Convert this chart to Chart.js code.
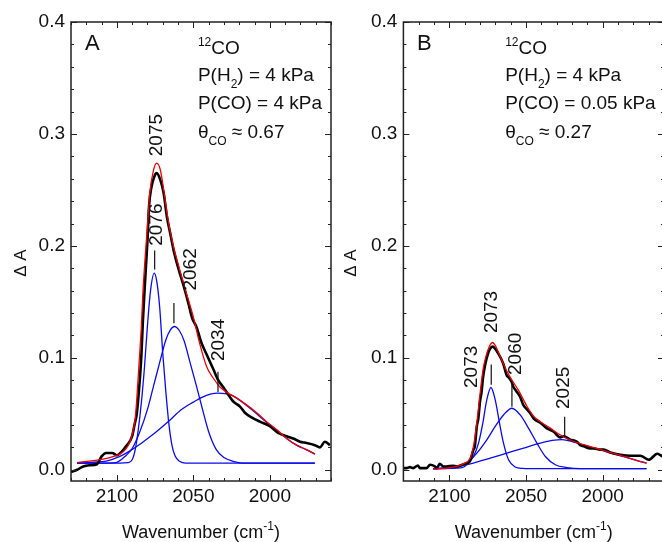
<!DOCTYPE html>
<html>
<head>
<meta charset="utf-8">
<script src="https://cdn.jsdelivr.net/npm/chart.js@4.4.0/dist/chart.umd.min.js"></script>
<style>
  html, body { margin: 0; padding: 0; background: #fff; overflow: hidden; }
  body { width: 662px; height: 542px; position: relative; }
  .panel { position: absolute; top: 0; width: 340px; height: 542px; }
  #panelA { left: 0; }
  #panelB { left: 331px; }
</style>
</head>
<body>
<div class="panel" id="panelA"><canvas id="chartA" width="340" height="542"></canvas></div>
<div class="panel" id="panelB"><canvas id="chartB" width="340" height="542"></canvas></div>
<script>
// ---- panel A : P(CO) = 4 kPa ----
const wnA_exp = [2130, 2126, 2122, 2118, 2113, 2110, 2107, 2103, 2100, 2097, 2094, 2090, 2088.5, 2087, 2085.5, 2084, 2083, 2081.5, 2080, 2079, 2077.5, 2075.5, 2074, 2071.6, 2069.4, 2067.3, 2065.1, 2062.9, 2059.6, 2056.3, 2053.1, 2050.9, 2047.8, 2044.6, 2041.3, 2037, 2033.7, 2030.5, 2026.1, 2023.9, 2019.5, 2016.3, 2010.8, 2006.5, 2000, 1994.5, 1989, 1984.7, 1980.3, 1975.9, 1970.5, 1967.3, 1964, 1960.7];
const dA_exp  = [-0.002, 0.000, 0.003, 0.004, 0.005, 0.012, 0.015, 0.015, 0.013, 0.016, 0.021, 0.030, 0.040, 0.050, 0.072, 0.102, 0.133, 0.170, 0.205, 0.235, 0.252, 0.262, 0.265, 0.259, 0.247, 0.226, 0.211, 0.196, 0.179, 0.164, 0.148, 0.136, 0.127, 0.113, 0.103, 0.090, 0.080, 0.074, 0.065, 0.061, 0.0565, 0.051, 0.046, 0.043, 0.039, 0.033, 0.030, 0.028, 0.025, 0.024, 0.022, 0.020, 0.025, 0.022];

const wnA_fit = [2126, 2111, 2102, 2096, 2092.5, 2090.3, 2088, 2087, 2085.5, 2084, 2083, 2081.5, 2080, 2078.5, 2076, 2074, 2071.6, 2069.4, 2066.1, 2062.9, 2059.6, 2055.3, 2052, 2050.1, 2045.7, 2041.3, 2037, 2032.6, 2027.2, 2021.7, 2015.2, 2008.6, 2002.1, 1995.6, 1989, 1982.5, 1975.9, 1970.5];
const dA_fit  = [0.0065, 0.009, 0.012, 0.016, 0.022, 0.030, 0.046, 0.063, 0.095, 0.128, 0.158, 0.190, 0.218, 0.247, 0.268, 0.274, 0.268, 0.250, 0.220, 0.199, 0.182, 0.161, 0.146, 0.137, 0.112, 0.092, 0.082, 0.074, 0.0685, 0.064, 0.058, 0.051, 0.043, 0.036, 0.028, 0.022, 0.018, 0.014];

const wnA_p1 = [2126, 2098, 2093, 2090, 2088, 2086, 2084, 2082, 2080, 2078, 2075.6, 2074, 2072, 2070, 2068, 2066, 2064, 2062, 2059, 2055, 1970.5];
const dA_p1  = [0.006, 0.006, 0.0064, 0.009, 0.018, 0.036, 0.060, 0.091, 0.129, 0.160, 0.1756, 0.169, 0.145, 0.104, 0.070, 0.041, 0.022, 0.0125, 0.0076, 0.006, 0.006];

const wnA_p2 = [2126, 2105, 2100, 2095, 2090, 2085, 2080, 2076, 2072, 2068, 2065, 2062.4, 2059, 2056, 2052, 2048, 2044, 2040, 2035, 2030, 2024, 2018, 1970.5];
const dA_p2  = [0.006, 0.006, 0.0067, 0.0116, 0.019, 0.034, 0.054, 0.075, 0.096, 0.116, 0.125, 0.128, 0.124, 0.115, 0.095, 0.075, 0.054, 0.034, 0.018, 0.011, 0.0076, 0.006, 0.006];

const wnA_p3 = [2126, 2115, 2107, 2098, 2092, 2084, 2075, 2066, 2058, 2050, 2044, 2039, 2034, 2029, 2024, 2015.2, 2008.6, 2002.1, 1995.6, 1989, 1982.5, 1975.9, 1970.5];
const dA_p3  = [0.006, 0.0068, 0.0078, 0.012, 0.0165, 0.0238, 0.033, 0.0435, 0.0536, 0.0605, 0.065, 0.0675, 0.0685, 0.068, 0.066, 0.0575, 0.050, 0.0425, 0.0355, 0.028, 0.022, 0.0178, 0.0142];

// ---- panel B : P(CO) = 0.05 kPa ----
const wnB_exp = [2130, 2128, 2125.7, 2123.7, 2120.5, 2119.2, 2115, 2112.6, 2109.5, 2108.2, 2106.3, 2103.9, 2102, 2097.6, 2095.2, 2089.9, 2086.7, 2084.3, 2083.4, 2082.1, 2081.2, 2079.9, 2079.1, 2078, 2076.5, 2075, 2073.5, 2071.9, 2068.2, 2064.9, 2062.5, 2061.6, 2059.5, 2058.2, 2056.2, 2053.8, 2051.8, 2049.4, 2047.5, 2045.1, 2040.7, 2036.3, 2032, 2027.6, 2025.5, 2021.1, 2016.7, 2014.6, 2012.4, 2008, 2005.9, 2001.5, 1999.3, 1995, 1988.4, 1981.9, 1975.4, 1969.9, 1964.4, 1961];
const dB_exp  = [0.0015, 0.0015, 0.0024, 0.0015, 0.0038, 0.0015, 0.0015, 0.0045, 0.003, 0.0015, 0.0054, 0.003, 0.003, 0.0036, 0.003, 0.0054, 0.0074, 0.018, 0.021, 0.039, 0.045, 0.0625, 0.0685, 0.083, 0.095, 0.103, 0.108, 0.110, 0.104, 0.095, 0.084, 0.083, 0.079, 0.074, 0.070, 0.065, 0.058, 0.054, 0.051, 0.046, 0.042, 0.037, 0.034, 0.029, 0.030, 0.027, 0.025, 0.022, 0.021, 0.019, 0.019, 0.018, 0.018, 0.0155, 0.0134, 0.0125, 0.0125, 0.009, 0.0143, 0.012];

const wnB_fit = [2110.5, 2101.7, 2095.2, 2090.8, 2086.5, 2084.3, 2082.1, 2080, 2078, 2075.8, 2074, 2071.9, 2070, 2068.2, 2064.9, 2060.5, 2055.1, 2049.5, 2045.1, 2040.7, 2034.2, 2027.8, 2019, 2008, 1997.1, 1986.3, 1977.5, 1971.4];
const dB_fit  = [0.0006, 0.0015, 0.003, 0.0054, 0.0104, 0.021, 0.042, 0.068, 0.090, 0.103, 0.110, 0.1137, 0.111, 0.1056, 0.095, 0.083, 0.0714, 0.057, 0.048, 0.043, 0.0372, 0.0313, 0.0253, 0.0208, 0.0163, 0.0119, 0.0083, 0.006];

const wnB_p1 = [2110.5, 2095, 2090, 2088.6, 2084.3, 2081, 2078.2, 2075.6, 2072.9, 2070.1, 2067.3, 2064.7, 2061.4, 2057.1, 2052, 2049.4, 1971.4];
const dB_p1  = [0.001, 0.0015, 0.003, 0.005, 0.0119, 0.0238, 0.0417, 0.0625, 0.0735, 0.0625, 0.0417, 0.0238, 0.0089, 0.0025, 0.0012, 0.001, 0.001];

const wnB_p2 = [2110.5, 2096.3, 2088.6, 2082.1, 2075.6, 2070.1, 2064.7, 2059.2, 2053.8, 2048.4, 2042.9, 2037.4, 2030.9, 2023.3, 2014.6, 1971.4];
const dB_p2  = [0.001, 0.002, 0.006, 0.0149, 0.0268, 0.0387, 0.049, 0.055, 0.049, 0.0372, 0.0238, 0.0119, 0.0045, 0.002, 0.001, 0.001];

const wnB_p3 = [2110.5, 2106.1, 2095.2, 2084.3, 2073.4, 2062.5, 2051.6, 2040.7, 2033, 2026.5, 2019, 2008, 1997.1, 1986.3, 1977.5, 1971.4];
const dB_p3  = [0.001, 0.0015, 0.003, 0.006, 0.0104, 0.0149, 0.0194, 0.0238, 0.0262, 0.027, 0.0248, 0.0203, 0.0158, 0.0117, 0.0082, 0.006];

// ---- axes ----
const xMajor = [2100, 2050, 2000];
const yMajor = [0.0, 0.1, 0.2, 0.3, 0.4];

// ---- annotations ----
const peakTextA = ['2075', '2076', '2062', '2034'];
const peakTextPosA = [[2073.8, 0.299], [2074.1, 0.219], [2051.6, 0.179], [2033.6, 0.116]];
const peakMarkA = [[2075.3, 0.179, 0.196], [2062.7, 0.131, 0.149], [2033.9, 0.0696, 0.0875]];

const peakTextB = ['2073', '2073', '2060', '2025'];
const peakTextPosB = [[2072.4, 0.141], [2085.5, 0.092], [2056.4, 0.1036], [2025.4, 0.0732]];
const peakMarkB = [[2072.7, 0.076, 0.094], [2059.2, 0.0563, 0.0777], [2024.8, 0.0295, 0.0473]];

const condA = [
  [{ t: '12', sup: 1 }, { t: 'CO' }],
  [{ t: 'P(H' }, { t: '2', sub: 1 }, { t: ') = 4 kPa' }],
  [{ t: 'P(CO) = 4 kPa' }],
  [{ t: 'θ' }, { t: 'CO', sub: 1 }, { t: ' ≈ 0.67' }]
];
const condB = [
  [{ t: '12', sup: 1 }, { t: 'CO' }],
  [{ t: 'P(H' }, { t: '2', sub: 1 }, { t: ') = 4 kPa' }],
  [{ t: 'P(CO) = 0.05 kPa' }],
  [{ t: 'θ' }, { t: 'CO', sub: 1 }, { t: ' ≈ 0.27' }]
];
const condLineY = [0.3714, 0.3473, 0.3223, 0.2964];

const FONT = '"Liberation Sans", Arial, sans-serif';
Chart.defaults.font.family = FONT;
Chart.defaults.color = '#111';

function pts(xs, ys) {
  return xs.map((x, i) => ({ x: x, y: ys[i] }));
}

function richText(ctx, x, y, parts) {
  let cx = x;
  parts.forEach(p => {
    const small = p.sub || p.sup;
    ctx.font = (small ? 12 : 19) + 'px ' + FONT;
    const dy = p.sub ? 7 : (p.sup ? -8 : 0);
    ctx.fillText(p.t, cx, y + dy);
    cx += ctx.measureText(p.t).width;
  });
}

const framePlugin = {
  id: 'frame',
  afterDatasetsDraw(chart) {
    const { ctx, chartArea: a, scales: { x, y } } = chart;
    ctx.save();
    ctx.strokeStyle = '#222';
    ctx.lineWidth = 1;
    ctx.beginPath();
    for (let v = 1960; v <= 2130; v += 10) {
      const px = Math.round(x.getPixelForValue(v)) + 0.5;
      const len = v % 50 === 0 ? 6 : 3;
      ctx.moveTo(px, a.bottom); ctx.lineTo(px, a.bottom - len);
      ctx.moveTo(px, a.top); ctx.lineTo(px, a.top + len);
    }
    for (let i = 0; i <= 20; i++) {
      const py = Math.round(y.getPixelForValue(i * 0.02)) + 0.5;
      const len = i % 5 === 0 ? 6 : 3;
      ctx.moveTo(a.left, py); ctx.lineTo(a.left + len, py);
      ctx.moveTo(a.right, py); ctx.lineTo(a.right - len, py);
    }
    ctx.stroke();
    ctx.lineWidth = 1.5;
    ctx.strokeRect(a.left, a.top, a.right - a.left, a.bottom - a.top);
    ctx.restore();
  },
  afterDraw(chart, args, opts) {
    const { ctx, chartArea: a, scales: { x, y } } = chart;
    ctx.save();
    ctx.fillStyle = '#111';
    ctx.strokeStyle = '#111';

    // axis titles
    ctx.textBaseline = 'alphabetic';
    ctx.textAlign = 'left';
    ctx.font = '18px ' + FONT;
    const main = 'Wavenumber (cm', tail = ')';
    const w1 = ctx.measureText(main).width;
    ctx.font = '12px ' + FONT;
    const w2 = ctx.measureText('-1').width;
    ctx.font = '18px ' + FONT;
    const w3 = ctx.measureText(tail).width;
    let tx = (a.left + a.right) / 2 - (w1 + w2 + w3) / 2;
    ctx.fillText(main, tx, 538);
    ctx.font = '12px ' + FONT;
    ctx.fillText('-1', tx + w1, 530);
    ctx.font = '18px ' + FONT;
    ctx.fillText(tail, tx + w1 + w2, 538);

    ctx.save();
    ctx.translate(opts.yTitleX, 263);
    ctx.rotate(-Math.PI / 2);
    ctx.textAlign = 'center';
    ctx.textBaseline = 'middle';
    ctx.font = '17px ' + FONT;
    ctx.fillText('Δ A', 0, 0);
    ctx.restore();

    // panel letter
    ctx.font = '22px ' + FONT;
    ctx.fillText(opts.letter, x.getPixelForValue(opts.letterX), y.getPixelForValue(0.375));

    // conditions
    const cx = x.getPixelForValue(opts.condX);
    opts.cond.forEach((parts, i) => richText(ctx, cx, y.getPixelForValue(condLineY[i]), parts));

    // peak labels
    ctx.font = '19px ' + FONT;
    ctx.textAlign = 'center';
    ctx.textBaseline = 'middle';
    opts.peakText.forEach((t, i) => {
      const p = opts.peakPos[i];
      ctx.save();
      ctx.translate(x.getPixelForValue(p[0]), y.getPixelForValue(p[1]));
      ctx.rotate(-Math.PI / 2);
      ctx.fillText(t, 0, 0);
      ctx.restore();
    });
    ctx.lineWidth = 1.2;
    ctx.beginPath();
    opts.peakMark.forEach(m => {
      const px = x.getPixelForValue(m[0]);
      ctx.moveTo(px, y.getPixelForValue(m[1]));
      ctx.lineTo(px, y.getPixelForValue(m[2]));
    });
    ctx.stroke();
    ctx.restore();
  }
};

function line(data, color, width, order) {
  return {
    data: data,
    showLine: true,
    borderColor: color,
    borderWidth: width,
    pointRadius: 0,
    cubicInterpolationMode: 'monotone',
    fill: false,
    order: order
  };
}

function makePanel(id, series, yWidth, rightPad, frameOpts) {
  const ctx = document.getElementById(id).getContext('2d');
  new Chart(ctx, {
    type: 'scatter',
    data: {
      datasets: [
        line(series.fit, '#f00000', 1.3, 0),
        line(series.exp, '#000000', 2.6, 1),
        line(series.p1, '#0a0af0', 1.3, 2),
        line(series.p2, '#0a0af0', 1.3, 2),
        line(series.p3, '#0a0af0', 1.3, 2)
      ]
    },
    options: {
      responsive: false,
      animation: false,
      devicePixelRatio: 1,
      layout: { padding: { top: 22, right: rightPad, left: 0, bottom: 0 } },
      plugins: {
        legend: { display: false },
        tooltip: { enabled: false },
        frame: frameOpts
      },
      scales: {
        x: {
          type: 'linear',
          reverse: true,
          min: 1960,
          max: 2130,
          afterBuildTicks: s => { s.ticks = xMajor.map(v => ({ value: v })); },
          afterFit: s => { s.height = 61; },
          ticks: { font: { size: 19 }, padding: 4, color: '#111', maxRotation: 0, callback: v => String(v) },
          grid: { display: false, drawTicks: false },
          border: { display: false }
        },
        y: {
          type: 'linear',
          min: -0.01,
          max: 0.4,
          afterBuildTicks: s => { s.ticks = yMajor.map(v => ({ value: v })); },
          afterFit: s => { s.width = yWidth; },
          ticks: { font: { size: 19 }, padding: 6, color: '#111', callback: v => v.toFixed(1) },
          grid: { display: false, drawTicks: false },
          border: { display: false }
        }
      }
    },
    plugins: [framePlugin]
  });
}

makePanel('chartA', {
  exp: pts(wnA_exp, dA_exp),
  fit: pts(wnA_fit, dA_fit),
  p1: pts(wnA_p1, dA_p1),
  p2: pts(wnA_p2, dA_p2),
  p3: pts(wnA_p3, dA_p3)
}, 71, 9, {
  yTitleX: 21, letter: 'A', letterX: 2120.8, condX: 2047.0, cond: condA,
  peakText: peakTextA, peakPos: peakTextPosA, peakMark: peakMarkA
});

makePanel('chartB', {
  exp: pts(wnB_exp, dB_exp),
  fit: pts(wnB_fit, dB_fit),
  p1: pts(wnB_p1, dB_p1),
  p2: pts(wnB_p2, dB_p2),
  p3: pts(wnB_p3, dB_p3)
}, 72.4, 7, {
  yTitleX: 20, letter: 'B', letterX: 2121.1, condX: 2063.6, cond: condB,
  peakText: peakTextB, peakPos: peakTextPosB, peakMark: peakMarkB
});
</script>
</body>
</html>
